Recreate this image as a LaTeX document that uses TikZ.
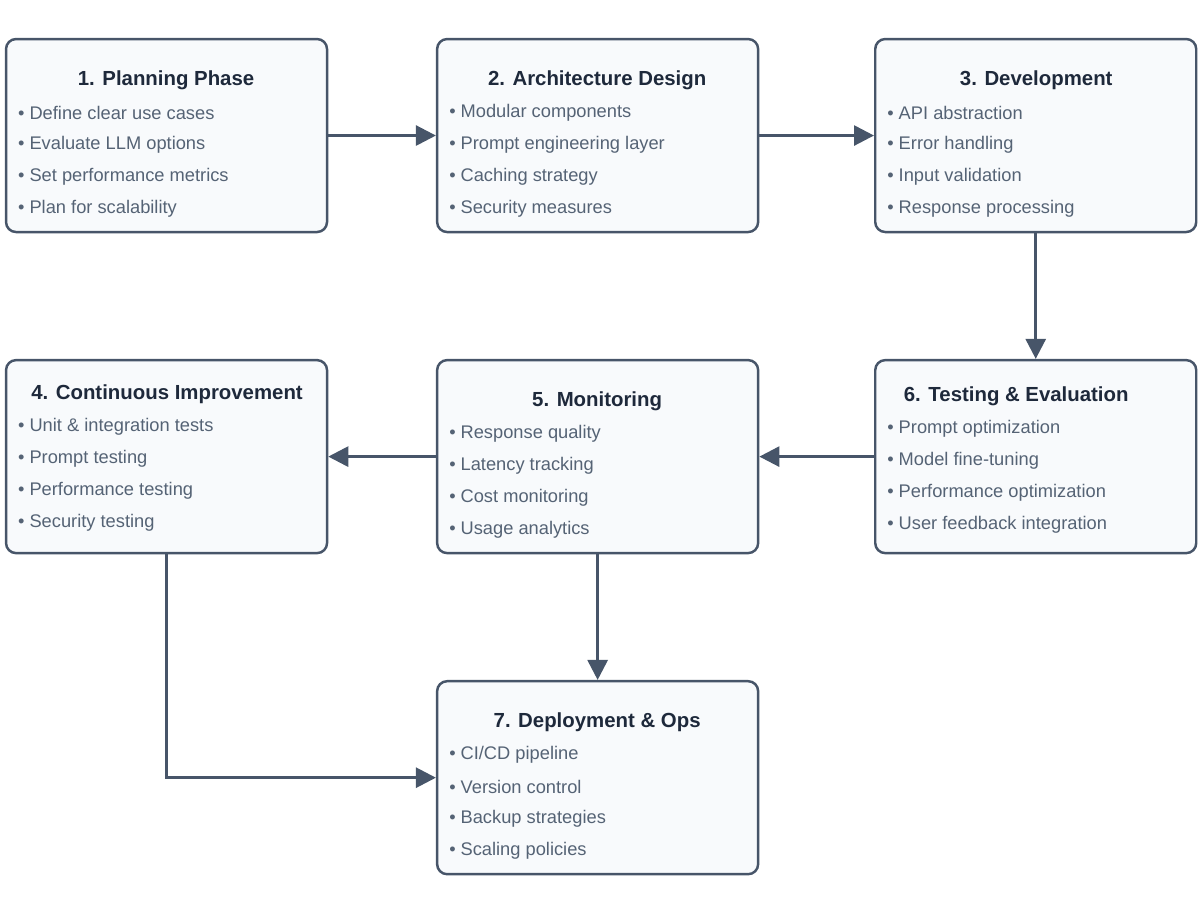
\documentclass[tikz,border=0pt]{standalone}
\usepackage{fontspec}
\setmainfont{Liberation Sans}
\usetikzlibrary{arrows.meta}
\definecolor{edge}{HTML}{475569}
\definecolor{boxbg}{HTML}{F8FAFC}
\definecolor{titlec}{HTML}{1E293B}
\definecolor{itemc}{HTML}{556375}
\tikzset{
  stage/.style={draw=edge,line width=1.4pt,fill=boxbg,rounded corners=0.2cm,
    minimum width=6.42cm,minimum height=3.86cm,inner sep=0pt},
  head/.style={font=\bfseries\fontsize{11.6}{13}\selectfont,text=titlec},
  item/.style={anchor=west,font=\fontsize{10.4}{12}\selectfont,text=itemc,inner sep=0pt},
  flow/.style={draw=edge,line width=1.6pt,-{Triangle[length=0.4cm,width=0.4cm]}}
}
% x,y given in pixels of a 1200x900 sheet
\newcommand{\stg}[7]{%
  \node[stage] (#1) at (#2*0.02,-#3*0.02) {};
  \node[head] (#1t) at (#5*0.02,-#6*0.02) {#4};
  \foreach \txt [count=\i] in {#7}
    \node[item] (#1i\i) at ([xshift=-0.16cm+0.42cm]#1.west |- 0,{-(#6+33+32*(\i-1))*0.02}) {\textbullet\hspace{0.1cm}\txt};
}
\begin{document}
\begin{tikzpicture}
\useasboundingbox (0,0) rectangle (24,-18);
\stg{plan}{166.5}{135.5}{1. Planning Phase}{166}{80}{Define clear use cases,Evaluate LLM options,Set performance metrics,Plan for scalability}
\stg{arch}{597.5}{135.5}{2. Architecture Design}{597}{80}{Modular components,Prompt engineering layer,Caching strategy,Security measures}
\stg{dev}{1035.5}{135.5}{3. Development}{1036}{80}{API abstraction,Error handling,Input validation,Response processing}
\stg{impr}{166.5}{456.5}{4. Continuous Improvement}{167}{394}{Unit \& integration tests,Prompt testing,Performance testing,Security testing}
\stg{mon}{597.5}{456.5}{5. Monitoring}{597}{401}{Response quality,Latency tracking,Cost monitoring,Usage analytics}
\stg{test}{1035.5}{456.5}{6. Testing \& Evaluation}{1016}{396}{Prompt optimization,Model fine-tuning,Performance optimization,User feedback integration}
\stg{dep}{597.5}{777.5}{7. Deployment \& Ops}{597}{722}{CI/CD pipeline,Version control,Backup strategies,Scaling policies}
\coordinate (bend) at (impr.south |- dep.west);
\draw[flow] (plan) -- (arch);
\draw[flow] (arch) -- (dev);
\draw[flow] (dev) -- (test);
\draw[flow] (test) -- (mon);
\draw[flow] (mon) -- (impr);
\draw[flow] (mon) -- (dep);
\draw[flow] (impr.south) -- (bend) -- (dep.west);
\end{tikzpicture}
\end{document}
